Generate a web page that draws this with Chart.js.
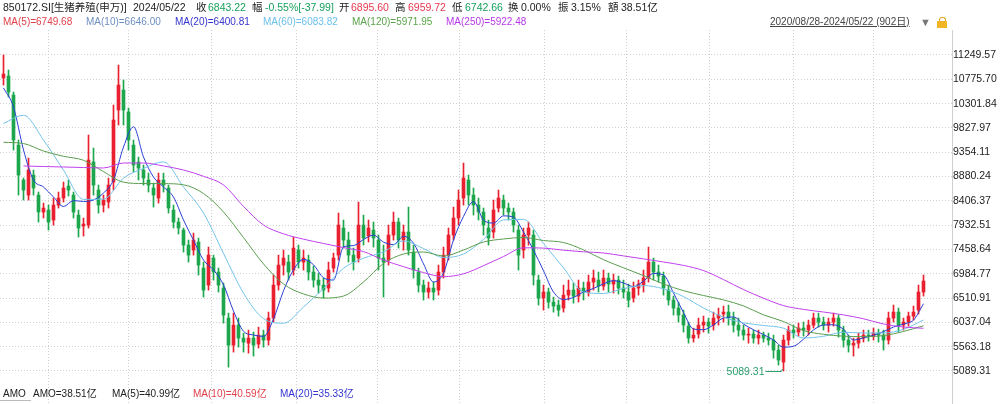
<!DOCTYPE html>
<html>
<head>
<meta charset="utf-8">
<script src="https://cdn.jsdelivr.net/npm/chart.js@4.4.1/dist/chart.umd.min.js"></script>
<style>
body { margin: 0; background: #fff; }
#wrap { position: relative; width: 1000px; height: 404px; overflow: hidden; font-family: "Liberation Sans", "Noto Sans CJK SC", sans-serif; color: #222; }
#c { position: absolute; left: 0; top: 0; }
.t { position: absolute; white-space: nowrap; line-height: 1; }
.r1 { top: 2px; font-size: 10.5px; }
.r2 { top: 17px; font-size: 10px; }
.r3 { top: 389px; font-size: 10px; }
.g { color: #17a05d; }
.r { color: #e8384f; }
</style>
</head>
<body>
<div id="wrap">
  <canvas id="c" width="1000" height="404"></canvas>

  <span class="t r1" style="left:3px">850172.SI[生猪养殖(申万)]</span>
  <span class="t r1" style="left:133px">2024/05/22</span>
  <span class="t r1" style="left:196px">收</span><span class="t r1 g" style="left:208px">6843.22</span>
  <span class="t r1" style="left:252px">幅</span><span class="t r1 g" style="left:265px">-0.55%[-37.99]</span>
  <span class="t r1" style="left:339px">开</span><span class="t r1 r" style="left:351px">6895.60</span>
  <span class="t r1" style="left:395px">高</span><span class="t r1 r" style="left:408px">6959.72</span>
  <span class="t r1" style="left:452px">低</span><span class="t r1 g" style="left:465px">6742.66</span>
  <span class="t r1" style="left:508px">换</span><span class="t r1" style="left:521px">0.00%</span>
  <span class="t r1" style="left:558px">振</span><span class="t r1" style="left:571px">3.15%</span>
  <span class="t r1" style="left:608px">額</span><span class="t r1" style="left:621px">38.51亿</span>

  <span class="t r2" style="left:3px;color:#e0404a">MA(5)=6749.68</span>
  <span class="t r2" style="left:86px;color:#6f8fc0">MA(10)=6646.00</span>
  <span class="t r2" style="left:175px;color:#3535d0">MA(20)=6400.81</span>
  <span class="t r2" style="left:263px;color:#6cc0ea">MA(60)=6083.82</span>
  <span class="t r2" style="left:352px;color:#5aa34a">MA(120)=5971.95</span>
  <span class="t r2" style="left:446px;color:#b538e8">MA(250)=5922.48</span>
  <span class="t r2" style="left:770px;color:#444;text-decoration:underline">2020/08/28-2024/05/22 (902日)</span>
  <span class="t r2" style="left:920px;color:#777;font-size:11px">▼</span>
  <div style="position:absolute;left:939px;top:17px;width:5px;height:4px;border:1px solid #e9a81e;border-bottom:none;border-radius:3px 3px 0 0"></div>
  <div style="position:absolute;left:937px;top:21px;width:10px;height:7px;background:#f2b526"></div>

  <span class="t r3" style="left:3px">AMO</span>
  <div style="position:absolute;left:0;top:400px;width:31px;height:1px;background:#bbb"></div>
  <span class="t r3" style="left:33px">AMO=38.51亿</span>
  <span class="t r3" style="left:112px">MA(5)=40.99亿</span>
  <span class="t r3" style="left:193px;color:#e0404a">MA(10)=40.59亿</span>
  <span class="t r3" style="left:280px;color:#3535d0">MA(20)=35.33亿</span>
</div>

<script>
// weekly candles, 2020/08/28 - 2024/05/22
const openP = [10801,10840,10469,9494,8812,8519,8909,8519,8188,8227,
  8032,8324,8461,8695,8519,8129,7915,7934,9163,8617,
  8324,8383,8773,10177,10567,10138,9494,9163,9007,8812,
  8656,8461,8812,8656,8227,7993,7837,7544,7447,7603,
  7096,6764,7291,7018,6706,6121,5594,5984,5731,5633,
  5731,5614,5789,5692,6121,6764,7154,7213,7057,7447,
  7213,7252,7018,6862,6764,6706,7096,7349,7876,7642,
  7349,7291,7934,7720,7837,7642,7291,7252,7740,7993,
  7642,7798,7408,7018,6764,6628,6706,6667,7018,7349,
  7740,8071,8461,8812,8519,8324,8188,7876,7798,8266,
  8422,8266,8188,7837,7447,7740,7740,6862,6511,6628,
  6433,6374,6316,6569,6667,6550,6706,6628,6823,6862,
  6745,6901,6784,6862,6706,6628,6511,6706,6764,6901,
  7213,7018,6940,6667,6472,6316,6180,5965,5731,5809,
  5984,6043,5984,6121,6199,6238,6121,5984,5887,5789,
  5809,5731,5789,5731,5692,5497,5263,5692,5887,5848,
  5926,5887,5984,6121,6043,5984,6043,6121,5887,5692,
  5594,5633,5731,5789,5770,5828,5789,5692,6121,6238,
  5984,6043,6160,6277,6628];
const highP = [11249.57,10957,10528,9592,8851,9241,9007,8578,8363,8324,
  8461,8578,8773,8812,8578,8227,8071,9689,9436,8714,
  8519,8851,10274,11054,10762,10216,9592,9260,9104,8948,
  8753,8948,8948,8714,8324,8071,7876,7642,7778,7681,
  7213,7505,7349,7096,6803,6218,6218,6121,5828,5887,
  5848,5945,5887,6238,6959,7349,7447,7349,7700,7544,
  7447,7349,7135,6998,6901,7213,7388,8168,8032,7798,
  7486,8383,8129,8032,7993,7740,7544,7934,8188,8071,
  7934,8285,7544,7096,6862,6823,6823,7154,7505,7876,
  8285,8617,9143,8909,8656,8461,8266,8032,8422,8617,
  8519,8363,8266,7934,7876,7993,7837,6959,6764,6706,
  6530,6472,6764,6862,6803,6862,6823,6959,7057,7018,
  7057,6998,6979,6940,6862,6784,6823,6862,7057,7505,
  7291,7154,7018,6764,6550,6433,6277,6043,5926,6121,
  6160,6121,6238,6316,6355,6374,6238,6121,5984,5926,
  5887,5887,5848,5828,5789,5594,5789,5965,5984,6023,
  6043,6082,6218,6218,6140,6121,6218,6180,5965,5789,
  5731,5828,5887,5887,5926,5906,5887,6238,6374,6316,
  6121,6238,6355,6764,6959.72];
const lowP = [10664,10430,9397,8519,8422,8422,8519,7993,8071,7837,
  7934,8266,8383,8500,8071,7700,7720,7876,8519,8168,
  8188,8266,8617,9884,9884,9397,8968,8812,8714,8578,
  8285,8363,8578,8168,7876,7759,7408,7213,7349,6959,
  6530,6667,6862,6628,6023,5165,5458,5555,5458,5438,
  5380,5536,5555,5594,6043,6667,6959,6862,6959,7096,
  7057,6862,6725,6608,6511,6628,7018,7252,7486,7213,
  7057,7213,7544,7603,7505,7057,6530,7154,7642,7486,
  7447,7349,6901,6628,6472,6511,6472,6569,6901,7252,
  7642,7934,8324,8324,8129,8032,7740,7544,7681,8188,
  8129,8032,7798,7057,7291,7544,6764,6374,6277,6316,
  6238,6160,6238,6472,6413,6433,6472,6550,6667,6628,
  6667,6628,6608,6589,6511,6335,6433,6569,6628,6823,
  6862,6823,6569,6374,6180,6043,5848,5633,5653,5731,
  5848,5828,5887,5984,6043,5984,5848,5770,5692,5633,
  5633,5614,5653,5594,5341,5204,5089.31,5594,5731,5770,
  5770,5789,5926,5945,5887,5848,5965,5750,5555,5458,
  5380,5536,5653,5672,5692,5653,5497,5614,6043,5848,
  5887,5965,6082,6199,6550];
const closeP = [10879,10528,9592,8909,8617,9007,8656,8188,8266,7993,
  8324,8461,8656,8617,8188,7876,7954,9202,8714,8324,
  8422,8714,9982,10664,10177,9592,9104,9046,8851,8714,
  8519,8812,8714,8266,7993,7876,7544,7349,7642,7154,
  6667,7349,7018,6764,6179,5594,5984,5731,5653,5731,
  5594,5789,5692,6121,6764,7154,7291,7018,7486,7213,
  7291,7018,6862,6764,6667,7057,7291,7934,7642,7349,
  7213,7934,7681,7876,7681,7291,7213,7740,7993,7642,
  7798,7447,7057,6764,6628,6706,6628,7018,7349,7740,
  8071,8422,8851,8519,8324,8188,7934,7681,8227,8461,
  8266,8188,7934,7349,7740,7876,6959,6511,6628,6433,
  6355,6277,6569,6667,6550,6706,6628,6823,6901,6745,
  6901,6784,6862,6706,6628,6472,6706,6784,6901,7213,
  7018,6940,6706,6472,6316,6180,5984,5731,5789,5984,
  6043,5965,6121,6180,6238,6121,5984,5887,5789,5809,
  5731,5789,5731,5692,5497,5302,5692,5887,5828,5926,
  5887,5984,6121,6043,5984,6043,6121,5887,5692,5594,
  5633,5731,5789,5770,5828,5789,5692,6121,6238,5984,
  6043,6160,6238,6628,6843.22];

// moving averages, sampled every 2 weeks (ma20) or every 4 weeks
const ma20 = [10606,10236,9399,8813,8676,8481,8296,8411,8395,8423,
  8559,8813,9456,9850,9261,8871,8676,8481,8033,7639,
  7253,7058,6770,6257,5865,5791,5764,6103,6653,7062,
  7265,7160,6906,6863,7507,7534,7653,7739,7602,7555,
  7715,7581,7179,6824,7000,7643,8103,8392,8033,7974,
  8113,8088,7799,7444,7043,6629,6483,6524,6629,6699,
  6789,6850,6805,6735,6842,6990,6961,6612,6230,5906,
  5894,5988,6123,6142,6004,5893,5799,5694,5555,5571,
  5709,5889,5986,5990,5902,5694,5735,5787,5857,5947,
  6004,6083,6400.81];
const ma60 = [9916,10074,9592,9004,8435,8440,8848,9039,9164,8676,
  8169,7382,6608,6111,6021,6337,6698,7093,7288,7411,
  7624,7477,7302,7370,7655,8035,8045,7575,7101,6629,
  6600,6698,6754,6692,6540,6317,6140,6029,5976,5924,
  5733,5766,5846,5830,5830,5902,6083.82];
const ma120 = [9548,9524,9378,9275,9197,8976,8770,8744,8742,8719,
  8549,8189,7690,7177,6785,6592,6512,6551,6824,7187,
  7370,7409,7331,7448,7604,7663,7692,7633,7594,7450,
  7259,7101,6949,6785,6655,6561,6475,6358,6183,6054,
  5877,5805,5768,5760,5779,5860,5971.95];
const ma250 = [null,9086,9076,9066,9056,9047,9144,9144,9086,9008,
  8885,8715,8298,7935,7764,7659,7575,7495,7417,7253,
  7123,7008,6928,6984,7142,7321,7491,7485,7444,7413,
  7390,7333,7275,7214,7148,7047,6871,6676,6509,6364,
  6290,6239,6183,6107,6006,5947,5922.48];

const yTicks = [5089.31,5563.18,6037.04,6510.91,6984.77,7458.64,7932.51,
  8406.37,8880.24,9354.11,9827.97,10301.84,10775.70,11249.57];
const periodStarts = [17,33,50,67,82.5,100,116.5,132.5,150,166,182];

const UP = '#e9202f', DOWN = '#1ea64c';
const candleColors = closeP.map((c, i) => c >= openP[i] ? UP : DOWN);
const toPts = (arr, step) => arr.map((v, j) => ({ x: j * step, y: v }));

Chart.defaults.font.family = '"Liberation Sans", "Noto Sans CJK SC", sans-serif';

const lowMark = {
  id: 'lowMark',
  afterDatasetsDraw(chart) {
    const i = lowP.indexOf(Math.min(...lowP));
    const px = chart.scales.x.getPixelForValue(i);
    const py = Math.round(chart.scales.y.getPixelForValue(lowP[i]));
    const ctx = chart.ctx;
    ctx.save();
    ctx.strokeStyle = '#2a9d6c';
    ctx.fillStyle = '#2a9d6c';
    ctx.lineWidth = 1;
    ctx.beginPath();
    ctx.moveTo(px - 18, py + 0.5);
    ctx.lineTo(px - 2, py + 0.5);
    ctx.lineTo(px - 1, py - 2);
    ctx.stroke();
    ctx.font = '10.5px "Liberation Sans"';
    ctx.textAlign = 'right';
    ctx.textBaseline = 'middle';
    ctx.fillText(lowP[i].toFixed(2), px - 19, py + 1);
    ctx.restore();
  }
};

const maLine = (label, data, step, color) => ({
  type: 'line', label, data: toPts(data, step), borderColor: color,
  borderWidth: 1, pointRadius: 0, cubicInterpolationMode: 'monotone',
  spanGaps: true, order: 0
});

new Chart(document.getElementById('c'), {
  type: 'bar',
  data: {
    datasets: [
      maLine('MA250', ma250, 4, '#c040ee'),
      maLine('MA120', ma120, 4, '#5a9e4e'),
      maLine('MA60', ma60, 4, '#72c4ea'),
      maLine('MA20', ma20, 2, '#2b3fd6'),
      {
        label: 'wick', data: highP.map((h, i) => ({ x: i, y: [lowP[i], h] })),
        backgroundColor: candleColors, barThickness: 1, grouped: false, order: 2
      },
      {
        label: 'body', data: closeP.map((c, i) => ({ x: i, y: [openP[i], c] })),
        backgroundColor: candleColors, barThickness: 3, minBarLength: 1, grouped: false, order: 1
      }
    ]
  },
  options: {
    responsive: false,
    animation: false,
    layout: { padding: { top: 30, left: 0, right: 0, bottom: 0 } },
    plugins: { legend: { display: false }, tooltip: { enabled: false } },
    scales: {
      x: {
        type: 'linear', min: -0.7, max: 189.7, offset: false,
        ticks: { display: false },
        grid: { color: '#d0d0d0', drawTicks: false },
        border: { display: false, dash: [1, 2] },
        afterBuildTicks: s => { s.ticks = periodStarts.map(v => ({ value: v })); },
        afterFit: s => { s.height = 0; }
      },
      y: {
        position: 'right', min: 4445.99, max: 11736.93,
        ticks: {
          color: '#222', font: { size: 10.5 }, padding: 1,
          callback: v => v.toFixed(2)
        },
        grid: { color: '#d0d0d0', drawTicks: false },
        border: { display: true, color: '#cfcfcf', dash: [1, 2] },
        afterBuildTicks: s => { s.ticks = yTicks.map(v => ({ value: v })); },
        afterFit: s => { s.width = 48; s.paddingTop = 0; s.paddingBottom = 0; }
      }
    }
  },
  plugins: [lowMark]
});
</script>
</body>
</html>
